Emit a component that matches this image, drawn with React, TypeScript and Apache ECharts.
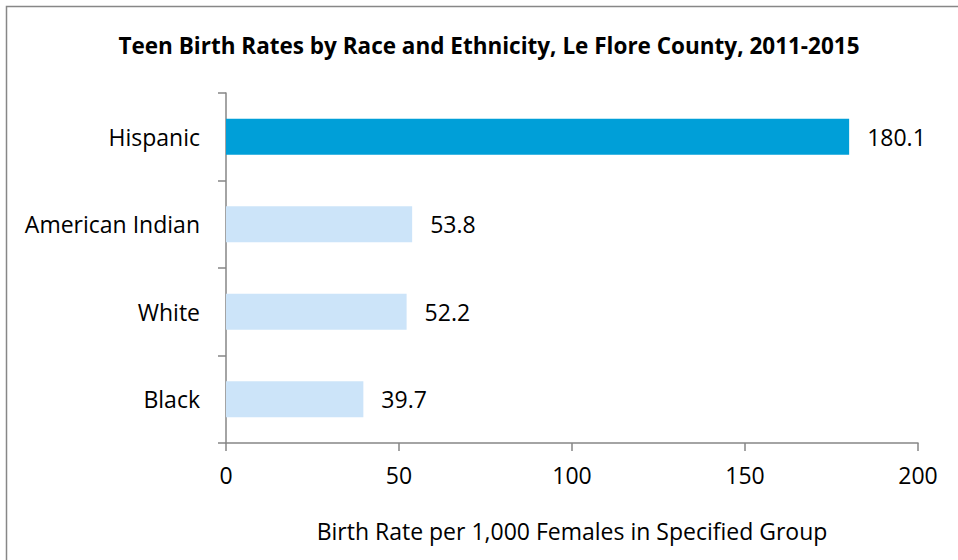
import React, { useEffect, useRef } from "react";
import * as echarts from "echarts";

const categories = ["Black", "White", "American Indian", "Hispanic"];
const values = [39.7, 52.2, 53.8, 180.1];
const barColors = ["#cce4f9", "#cce4f9", "#cce4f9", "#009fd8"];
const xTicks = [0, 50, 100, 150, 200];
const titleText = "Teen Birth Rates by Race and Ethnicity, Le Flore County, 2011-2015";
const xAxisName = "Birth Rate per 1,000 Females in Specified Group";

const FONT = "'Open Sans', 'Noto Sans', sans-serif";

export default function App() {
  const ref = useRef<HTMLDivElement>(null);
  useEffect(() => {
    if (!ref.current) return;
    const chart = echarts.init(ref.current, null, { renderer: "svg" });
    chart.setOption({
      animation: false,
      backgroundColor: "#ffffff",
      title: {
        text: titleText,
        left: 484,
        textAlign: "center",
        top: 29,
        textStyle: { fontFamily: FONT, fontWeight: "bold", fontSize: 22.5, color: "#000" },
      },
      graphic: [
        {
          type: "rect",
          shape: { x: 6.5, y: 6.5, width: 1000, height: 1000 },
          style: { fill: "none", stroke: "#878787", lineWidth: 1.5 },
          silent: true,
        },
      ],
      grid: { left: 226, right: 40, top: 93, bottom: 117, containLabel: false },
      xAxis: {
        type: "value",
        min: xTicks[0],
        max: xTicks[xTicks.length - 1],
        interval: 50,
        splitLine: { show: false },
        axisLine: { show: true, lineStyle: { color: "#868686", width: 1.5 } },
        axisTick: { show: true, length: 8, lineStyle: { color: "#868686", width: 1.5 } },
        axisLabel: { margin: 20, fontFamily: FONT, fontSize: 23, color: "#000" },
        name: xAxisName,
        nameLocation: "middle",
        nameGap: 76,
        nameTextStyle: { fontFamily: FONT, fontSize: 23, color: "#000" },
      },
      yAxis: {
        type: "category",
        data: categories,
        axisLine: { show: true, lineStyle: { color: "#868686", width: 1.5 } },
        axisTick: { show: true, length: 8, lineStyle: { color: "#868686", width: 1.5 } },
        axisLabel: { margin: 26, fontFamily: FONT, fontSize: 23, color: "#000" },
      },
      series: [
        {
          type: "bar",
          data: values.map((v, i) => ({ value: v, itemStyle: { color: barColors[i] } })),
          barWidth: "41%",
          label: {
            show: true,
            position: "right",
            distance: 18,
            fontFamily: FONT,
            fontSize: 23,
            color: "#000",
            formatter: (p: any) => p.value.toFixed(1),
          },
        },
      ],
    });
    return () => chart.dispose();
  }, []);
  return (
    <div
      ref={ref}
      style={{ position: "fixed", left: 0, top: 0, width: 958, height: 560 }}
    />
  );
}
